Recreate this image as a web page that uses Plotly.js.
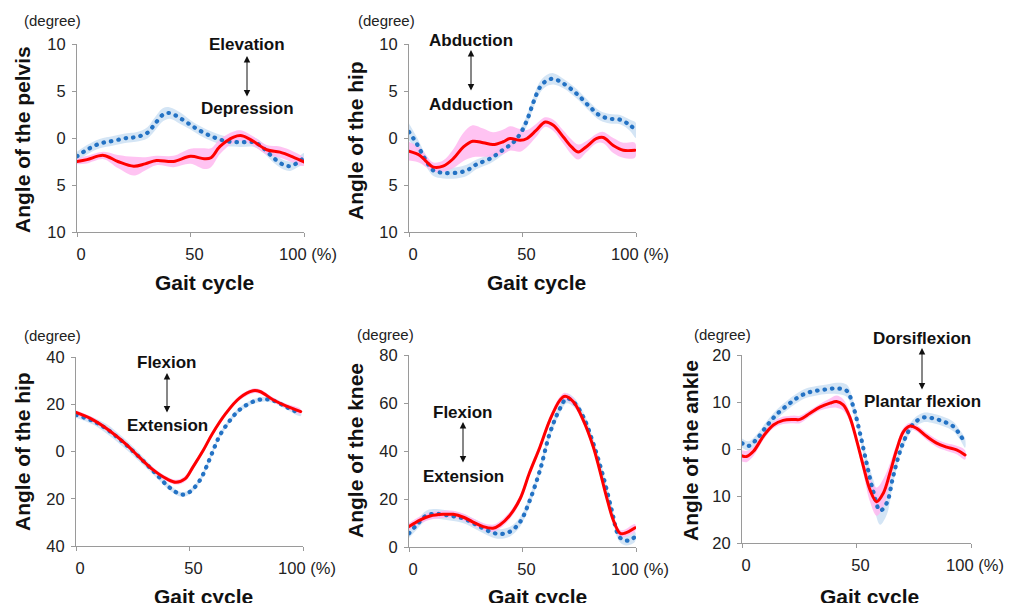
<!DOCTYPE html>
<html>
<head>
<meta charset="utf-8">
<script src="https://cdn.plot.ly/plotly-3.0.1.min.js"></script>
<style>
html,body{margin:0;padding:0;background:#fff;}
#chart{width:1009px;height:603px;}
#chart path.js-line{stroke-linecap:round;}
</style>
</head>
<body>
<div id="chart"></div>
<script>
// ---------- DATA ----------
// Pelvis (elevation + / depression -)
const pelvisRedX   = [0,4.4,11.7,18,25,30,35,42.5,50,56,59,63,69,72.6,77.7,83.6,89.4,95,100];
const pelvisRedY   = [-2.5,-2.3,-1.85,-2.5,-3.0,-2.75,-2.4,-2.5,-1.95,-2.2,-2.1,-0.9,0.1,0.25,-0.35,-1.25,-1.5,-2.0,-2.55];
const pelvisRedSD  = [0.3,0.4,0.4,0.7,1.0,0.7,0.5,0.6,0.8,1.1,1.0,0.8,0.6,0.55,0.5,0.5,0.6,0.6,0.4];
const pelvisBlueX  = [0,4.4,10,16,22,26,31,34,38,41,45.5,50,54,60,66,72,78,82,86.5,91,94,97,100];
const pelvisBlueY  = [-1.95,-1.25,-0.6,-0.3,0,0.1,0.55,1.4,2.5,2.65,2.1,1.4,0.8,0.1,-0.35,-0.45,-0.45,-1.05,-2.1,-2.85,-3.0,-2.65,-2.1];
const pelvisBlueSD = [0.5,0.5,0.5,0.5,0.5,0.5,0.6,0.7,0.7,0.6,0.6,0.5,0.5,0.5,0.5,0.5,0.5,0.5,0.5,0.5,0.5,0.5,0.5];

// Hip (abduction + / adduction -)
const hipAbRedX   = [0,4.8,7.8,10.7,15,19.5,24,28,32.7,37,41.5,44.5,49,52,56,60,63.6,68,71.6,74.6,78,82.7,85.6,90,94.4,99.5];
const hipAbRedY   = [-1.4,-1.85,-2.55,-3.1,-3.0,-2.2,-0.95,-0.35,-0.5,-0.7,-0.4,-0.05,-0.25,-0.05,0.8,1.7,1.35,0.1,-0.95,-1.5,-0.95,-0.05,0.05,-0.8,-1.3,-1.3];
const hipAbRedSD  = [1.0,0.8,0.6,0.5,0.6,1.0,1.5,1.7,1.5,1.3,1.3,1.3,1.2,0.9,0.7,0.5,0.6,0.7,0.8,0.8,0.6,0.5,0.6,0.8,0.8,0.8];
const hipAbBlueX  = [0,3.4,7,10.7,15,21,25.4,29.8,35.7,41.5,46,49,52,54.8,57.7,60.6,63.6,68,73.9,79.7,84,88.5,93,97.4,100];
const hipAbBlueY  = [0.65,-0.6,-2.2,-3.45,-3.7,-3.7,-3.45,-2.8,-2.2,-1.25,-0.45,0.45,1.9,3.8,5.4,6.1,6.3,5.8,4.7,3.3,2.4,2.05,1.95,1.35,0.8];
const hipAbBlueSD = [0.9,0.7,0.6,0.6,0.6,0.6,0.6,0.5,0.5,0.5,0.5,0.5,0.6,0.6,0.6,0.6,0.6,0.5,0.5,0.5,0.5,0.5,0.5,0.6,0.8];

// Hip (flexion + / extension -)
const hipFlexRedX   = [0,7.5,14.8,22,28,34,40,44,48,51.5,56,60,66,72,78,81,87,92.7,99];
const hipFlexRedY   = [16.5,13.4,8.8,3.1,-2.5,-7.8,-11.6,-13,-11.6,-6.6,0.4,7.4,16.1,22.6,25.7,25.4,21.8,19.2,16.9];
const hipFlexRedSD  = [1,1,1,1,1,1,1,1,1.2,1.2,1,1,1,1,1,1,1,1,1];
const hipFlexBlueX  = [0,7.5,13.4,20.7,28,35,41,46.4,50,54.5,57.4,60.4,63.3,67.7,72,78,82.4,86.8,92.7,99];
const hipFlexBlueY  = [15.5,12.9,9.6,4,-2.5,-9.2,-15.1,-18.2,-17.2,-12.3,-6.6,0.4,6.7,13,17.6,21.1,22.1,21.6,18.8,16];
const hipFlexBlueSD = [1.2,1.5,2,2,1.8,1.5,1.2,1,1,1,1,1,1,1,1,1,1,1,1,1];

// Knee (flexion + / extension -)
const kneeRedX   = [0,4.8,9.3,15,19.5,24,28,32.7,37,40,44.5,49,53,57.7,62,66.5,68.7,72.4,76.8,81.2,84,87,90,93,95,99.6];
const kneeRedY   = [8.5,11.2,12.9,13.6,13.6,12.4,10.5,8.5,7.8,9.2,13.3,20.2,30.7,41.7,52.8,61.2,62.8,60.5,52.8,41.7,32,20.9,11.2,5.7,5.7,8];
const kneeRedSD  = [1.5,1.5,1.5,1.5,1.5,1.5,1.5,1.5,1.5,1.5,1.5,1.5,1.5,1.5,1.5,1.5,1.5,1.5,1.5,1.5,1.5,1.5,1.5,1.5,1.5,1.5];
const kneeBlueX  = [0,3.4,7.8,12,18,24,29.8,35.7,40,44.5,49,53,57.7,62,66.5,69.5,72.4,76.8,81.2,85.6,89.3,92.2,94.4,97.4,99.6];
const kneeBlueY  = [5.7,9.2,13.2,13.8,13.0,11.9,9.2,6.4,5.4,6.4,10.5,18.9,32,47.3,57.7,61.9,60.5,54.2,43.1,29.3,15.4,5,2.9,2.9,4.3];
const kneeBlueSD = [2,2,2,2,2,2,2,2,2,2,2,2,2,2,2,2,2,2,2,2,2,2,2,2,2];

// Ankle (dorsiflexion + / plantar flexion -)
const ankleRedX   = [0,2,5,9.3,13.7,18,22.4,25.3,29.7,34,38.4,41.3,44.2,47,50,53,55.9,58.8,61.7,64.6,67.5,70.5,73.4,76.3,80.6,85,89.4,93.7,97.4];
const ankleRedY   = [-1.45,-1.6,-0.5,2.7,5.1,6.1,6.3,6.3,7.6,8.9,9.75,10.1,9.4,6.9,1.95,-3.7,-8.7,-11.2,-9.4,-5.1,-0.2,3.7,4.9,4.4,2.7,1.25,0.4,-0.2,-1.25];
const ankleRedSD  = [1.2,1.2,1.0,0.8,0.7,0.8,0.8,0.8,0.7,0.7,1,1.3,1.2,1,1,1.5,2.5,3,3,2,1.2,0.8,0.7,0.7,0.8,0.8,0.8,0.9,1];
const ankleBlueX  = [0,2.9,6.4,10.8,15,19.5,23.9,28.2,32.6,37,41.3,45.7,48.6,51.5,54.4,57.3,60.3,63.2,66,69,71.9,74.8,79.2,83.6,87.9,92.3,95.2,97.4];
const ankleBlueY  = [1.25,0.65,2.1,4.9,7.3,9.2,10.8,11.9,12.4,12.7,12.9,12.4,9,3.4,-3,-9,-13.1,-11.5,-5.85,-0.5,3,5.35,6.7,6.5,5.85,4.8,3,1.25];
const ankleBlueSD = [1,1,1,1,1,1,1,1,1,1,1.2,1.3,1.3,1.3,1.5,2.5,3,2.5,1.5,1,1,1,1,1,1,1,1,1];

// Tick values / labels
const xTickVals = [0,50,100];
const xTickText = ['0','50','100 (%)'];
const pelvisTickVals = [-10,-5,0,5,10];
const pelvisTickText = ['10','5','0','5','10'];
const hipFlexTickVals = [-40,-20,0,20,40];
const hipFlexTickText = ['40','20','0','20','40'];
const kneeTickVals = [0,20,40,60,80];
const kneeTickText = ['0','20','40','60','80'];
const ankleTickVals = [-20,-10,0,10,20];
const ankleTickText = ['20','10','0','10','20'];

const panelTitles = ['Angle of the pelvis','Angle of the hip','Angle of the hip','Angle of the knee','Angle of the ankle'];
const upperLabels = ['Elevation','Abduction','Flexion','Flexion','Dorsiflexion'];
const lowerLabels = ['Depression','Adduction','Extension','Extension','Plantar flexion'];

// ---------- STYLE / LAYOUT ----------
const W = 1009, H = 603;
const px = v => v / W;
const py = v => 1 - v / H;
const RED = '#FF0000', BLUE = '#2372C4', PINK = 'rgba(255,185,240,0.85)', LBLUE = 'rgba(205,224,243,0.85)';
const TICKFONT = {family: 'Liberation Sans, Arial, sans-serif', size: 16.5, color: '#222'};
const SMALLFONT = {family: 'Liberation Sans, Arial, sans-serif', size: 15, color: '#222'};
const BOLD = {family: 'Liberation Sans, Arial, sans-serif', size: 21, color: '#111', weight: 'bold'};
const LABELFONT = {family: 'Liberation Sans, Arial, sans-serif', size: 17, color: '#111', weight: 'bold'};

// panel pixel boxes [left, right, top, bottom]
const boxes = [
  [77, 304, 44, 232],
  [409, 636, 44, 232],
  [76, 303, 357, 546],
  [409, 636, 355, 547],
  [742, 971, 355, 543]
];

const panels = [
  {rx: pelvisRedX, ry: pelvisRedY, rs: pelvisRedSD, bx: pelvisBlueX, by: pelvisBlueY, bs: pelvisBlueSD, range: [-10,10], tv: pelvisTickVals, tt: pelvisTickText},
  {rx: hipAbRedX, ry: hipAbRedY, rs: hipAbRedSD, bx: hipAbBlueX, by: hipAbBlueY, bs: hipAbBlueSD, range: [-10,10], tv: pelvisTickVals, tt: pelvisTickText},
  {rx: hipFlexRedX, ry: hipFlexRedY, rs: hipFlexRedSD, bx: hipFlexBlueX, by: hipFlexBlueY, bs: hipFlexBlueSD, range: [-40,40], tv: hipFlexTickVals, tt: hipFlexTickText},
  {rx: kneeRedX, ry: kneeRedY, rs: kneeRedSD, bx: kneeBlueX, by: kneeBlueY, bs: kneeBlueSD, range: [0,80], tv: kneeTickVals, tt: kneeTickText},
  {rx: ankleRedX, ry: ankleRedY, rs: ankleRedSD, bx: ankleBlueX, by: ankleBlueY, bs: ankleBlueSD, range: [-20,20], tv: ankleTickVals, tt: ankleTickText}
];

// text positions
const degreePos = [[52,21],[386,21],[52,335],[385,334],[722,334]];
const ytitlePos = [[22,140],[356,141],[22,452],[355,451],[690,451]];
const xtitlePos = [[204,282],[536,282],[203,596],[537,596],[869,596]];
const arrowPos  = [[247,56,98],[471,50,92],[167,373,414],[463,422,464],[922,348,391]];
const upperPos  = [[247,45],[471,40],[167,362],[463,412],[922,338]];
const lowerPos  = [[247,109],[471,104],[167,425],[463,476],[922,401]];

const band = (x, y, s, color, xa, ya) => {
  const up = y.map((v,i) => v + s[i]);
  const lo = y.map((v,i) => v - s[i]);
  return {
    x: x.concat(x.slice().reverse()),
    y: up.concat(lo.slice().reverse()),
    type: 'scatter', mode: 'lines', fill: 'toself', fillcolor: color,
    line: {width: 0, shape: 'spline', smoothing: 1, color: color},
    hoverinfo: 'skip', xaxis: xa, yaxis: ya
  };
};

const data = [];
const layout = {
  width: W, height: H,
  margin: {l: 0, r: 0, t: 0, b: 0},
  paper_bgcolor: '#fff', plot_bgcolor: '#fff',
  showlegend: false,
  annotations: []
};

panels.forEach((p, i) => {
  const n = i === 0 ? '' : String(i + 1);
  const xa = 'x' + n, ya = 'y' + n;
  data.push(band(p.bx, p.by, p.bs, LBLUE, xa, ya));
  data.push(band(p.rx, p.ry, p.rs, PINK, xa, ya));
  data.push({x: p.bx, y: p.by, type: 'scatter', mode: 'lines', line: {color: BLUE, width: 4.2, dash: '0.5px,7px', shape: 'spline'}, xaxis: xa, yaxis: ya});
  data.push({x: p.rx, y: p.ry, type: 'scatter', mode: 'lines', line: {color: RED, width: 3, shape: 'spline'}, xaxis: xa, yaxis: ya});

  const b = boxes[i];
  layout['xaxis' + n] = {
    domain: [px(b[0]), px(b[1])], range: [0, 100], anchor: ya,
    tickvals: xTickVals, ticktext: xTickText, tickfont: TICKFONT,
    showline: true, linecolor: '#9a9a9a', linewidth: 1, ticks: 'outside', ticklen: 4, tickcolor: '#9a9a9a',
    showgrid: false, zeroline: false, ticklabelstandoff: 3, ticklabelshift: 4, fixedrange: true
  };
  layout['yaxis' + n] = {
    domain: [py(b[3]), py(b[2])], range: p.range, anchor: xa,
    tickvals: p.tv, ticktext: p.tt, tickfont: TICKFONT,
    showline: true, linecolor: '#9a9a9a', linewidth: 1, ticks: 'outside', ticklen: 4, tickcolor: '#9a9a9a',
    showgrid: false, zeroline: false, ticklabelstandoff: 3, fixedrange: true
  };

  const A = layout.annotations;
  A.push({text: '(degree)', xref: 'paper', yref: 'paper', x: px(degreePos[i][0]), y: py(degreePos[i][1]), xanchor: 'center', yanchor: 'middle', showarrow: false, font: SMALLFONT});
  A.push({text: panelTitles[i], xref: 'paper', yref: 'paper', x: px(ytitlePos[i][0]), y: py(ytitlePos[i][1]), xanchor: 'center', yanchor: 'middle', textangle: -90, showarrow: false, font: BOLD});
  A.push({text: 'Gait cycle', xref: 'paper', yref: 'paper', x: px(xtitlePos[i][0]), y: py(xtitlePos[i][1]), xanchor: 'center', yanchor: 'middle', showarrow: false, font: BOLD});
  A.push({text: upperLabels[i], xref: 'paper', yref: 'paper', x: px(upperPos[i][0]), y: py(upperPos[i][1]), xanchor: 'center', yanchor: 'middle', showarrow: false, font: LABELFONT});
  A.push({text: lowerLabels[i], xref: 'paper', yref: 'paper', x: px(lowerPos[i][0]), y: py(lowerPos[i][1]), xanchor: 'center', yanchor: 'middle', showarrow: false, font: LABELFONT});
  const ap = arrowPos[i];
  A.push({text: '', xref: 'paper', yref: 'paper', x: px(ap[0]), y: py(ap[1]), ax: 0, ay: ap[2] - ap[1],
          showarrow: true, arrowhead: 2, startarrowhead: 2, arrowside: 'end+start', arrowsize: 1.3, startarrowsize: 1.3,
          arrowwidth: 1, arrowcolor: '#111', standoff: 0, startstandoff: 0});
});

Plotly.newPlot('chart', data, layout, {staticPlot: true, displayModeBar: false});
</script>
</body>
</html>
